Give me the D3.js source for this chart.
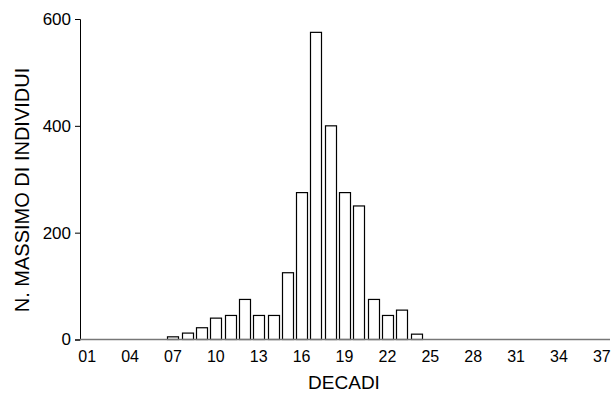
<!DOCTYPE html>
<html><head><meta charset="utf-8">
<script src="https://cdn.jsdelivr.net/npm/d3@7"></script>
<style>body{margin:0;background:#fff}text{font-family:"Liberation Sans",Arial,sans-serif}</style>
</head><body><svg id="c" width="614" height="394"></svg>
<script>
const categories = d3.range(1, 38).map(d => String(d).padStart(2, "0"));
const barCategories = ["07","08","09","10","11","12","13","14","15","16","17","18","19","20","21","22","23","24"];
const barValues = [5,12,22,40,45,75,45,45,125,275,575,400,275,250,75,45,55,10];
const xTickLabels = ["01","04","07","10","13","16","19","22","25","28","31","34","37"];
const yTicks = [0,200,400,600];

const svg = d3.select("#c");
const x = d3.scaleBand().domain(categories).range([80, 609]).paddingInner(0.24).paddingOuter(0.12);
const y = d3.scaleLinear().domain([0, 600]).range([339.5, 19]);

svg.append("g").attr("transform","translate(80,0)")
  .call(d3.axisLeft(y).tickValues(yTicks).tickSize(5).tickPadding(4).tickFormat(d3.format("d")))
  .call(g => g.selectAll("text").attr("font-size", 17).attr("fill","#000").style("font-family","Liberation Sans, Arial, sans-serif"))
  .call(g => g.selectAll("line,path").attr("stroke","#000"));

svg.append("g").selectAll("rect").data(barCategories.map((c,i)=>({c, v: barValues[i]})))
  .join("rect")
  .attr("x", d => Math.round(x(d.c)) + 0.5)
  .attr("width", Math.round(x.bandwidth()))
  .attr("y", d => y(d.v))
  .attr("height", d => y(0) - y(d.v))
  .attr("fill","#fff").attr("stroke","#000").attr("stroke-width",1.2);

svg.append("g").attr("transform","translate(0,339.5)")
  .call(d3.axisBottom(x).tickValues(xTickLabels).tickSize(0).tickPadding(11).tickSizeOuter(0))
  .call(g => g.select("path").attr("d","M80,0H610").attr("stroke","#777").attr("stroke-width",1.5))
  .call(g => g.selectAll("text").attr("font-size", 16).attr("fill","#000").style("font-family","Liberation Sans, Arial, sans-serif"));

svg.append("text").attr("x", 344).attr("y", 389).attr("text-anchor","middle").attr("font-size",19).text("DECADI");
svg.append("text").attr("transform","translate(29,190) rotate(-90)").attr("text-anchor","middle").attr("font-size",20).text("N. MASSIMO DI INDIVIDUI");
</script></body></html>
